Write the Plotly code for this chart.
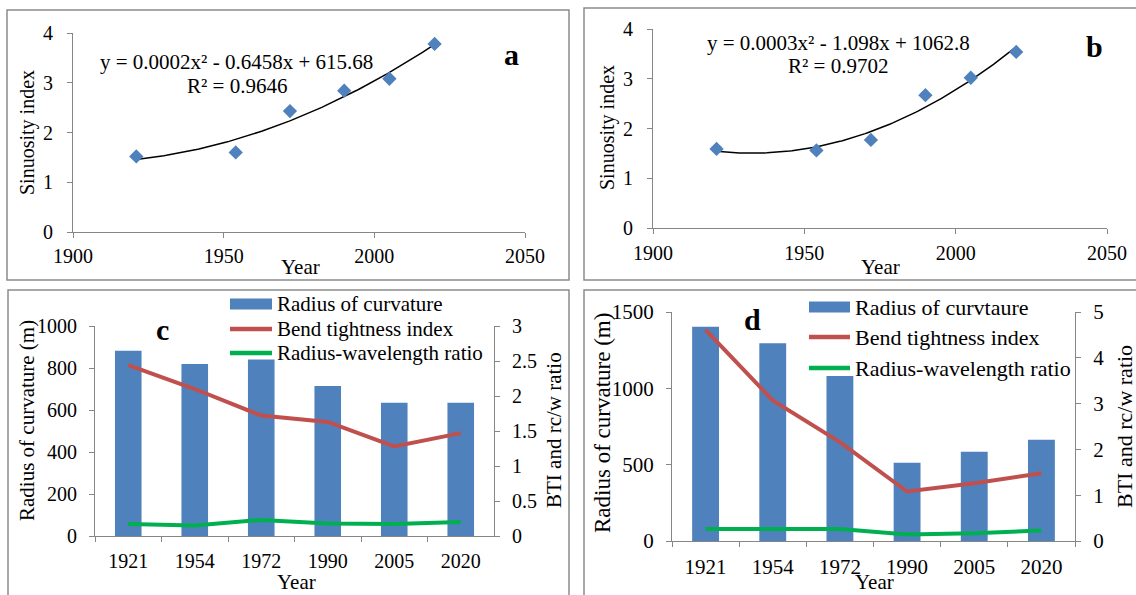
import numpy as np
import plotly.graph_objects as go

W, H = 1136, 595

# ---------------- data ----------------
years_a = [1921, 1954, 1972, 1990, 2005, 2020]
sinuosity_a = [1.52, 1.60, 2.43, 2.84, 3.08, 3.78]

years_b = [1921, 1954, 1972, 1990, 2005, 2020]
sinuosity_b = [1.59, 1.56, 1.77, 2.67, 3.02, 3.54]

year_labels = ["1921", "1954", "1972", "1990", "2005", "2020"]

radius_c = [882, 819, 841, 714, 635, 635]
bti_c = [2.44, 2.10, 1.72, 1.63, 1.28, 1.47]
rw_c = [0.17, 0.15, 0.23, 0.18, 0.17, 0.20]

radius_d = [1404, 1295, 1081, 512, 584, 663]
bti_d = [4.61, 3.07, 2.16, 1.08, 1.26, 1.48]
rw_d = [0.26, 0.26, 0.26, 0.14, 0.17, 0.23]

eq_a = ["y = 0.0002x² - 0.6458x + 615.68", "R² = 0.9646"]
eq_b = ["y = 0.0003x² - 1.098x + 1062.8", "R² = 0.9702"]

# ---------------- styles ----------------
FONT = "Times New Roman"
BLUE = "#4F81BD"
RED = "#C0504D"
GREEN = "#00B050"
AXC = "#868686"
BORDER = "#8C8C8C"


def fx(px):
    return px / W


def fy(py):
    return 1 - py / H


def trend(xs, ys):
    xs = np.asarray(xs, float)
    ys = np.asarray(ys, float)
    c = np.polyfit(xs - 1970, ys, 2)
    xx = np.linspace(xs.min(), xs.max(), 120)
    return xx, np.polyval(c, xx - 1970)


fig = go.Figure()

# panel a
tx, ty = trend(years_a, sinuosity_a)
fig.add_trace(go.Scatter(x=tx, y=ty, mode="lines", line=dict(color="black", width=1.5),
                         xaxis="x", yaxis="y", hoverinfo="skip"))
fig.add_trace(go.Scatter(x=years_a, y=sinuosity_a, mode="markers",
                         marker=dict(symbol="diamond", size=11, color=BLUE),
                         xaxis="x", yaxis="y"))
# panel b
tx, ty = trend(years_b, sinuosity_b)
fig.add_trace(go.Scatter(x=tx, y=ty, mode="lines", line=dict(color="black", width=1.5),
                         xaxis="x2", yaxis="y2", hoverinfo="skip"))
fig.add_trace(go.Scatter(x=years_b, y=sinuosity_b, mode="markers",
                         marker=dict(symbol="diamond", size=11, color=BLUE),
                         xaxis="x2", yaxis="y2"))
# panel c
fig.add_trace(go.Bar(x=year_labels, y=radius_c, marker=dict(color=BLUE, line=dict(width=0)),
                     xaxis="x3", yaxis="y3", name="Radius of curvature"))
fig.add_trace(go.Scatter(x=year_labels, y=bti_c, mode="lines", line=dict(color=RED, width=4),
                         xaxis="x3", yaxis="y4", name="Bend tightness index"))
fig.add_trace(go.Scatter(x=year_labels, y=rw_c, mode="lines", line=dict(color=GREEN, width=4),
                         xaxis="x3", yaxis="y4", name="Radius-wavelength ratio"))
# panel d
fig.add_trace(go.Bar(x=year_labels, y=radius_d, marker=dict(color=BLUE, line=dict(width=0)),
                     xaxis="x4", yaxis="y5", name="Radius of curvtaure"))
fig.add_trace(go.Scatter(x=year_labels, y=bti_d, mode="lines", line=dict(color=RED, width=4),
                         xaxis="x4", yaxis="y6", name="Bend tightness index"))
fig.add_trace(go.Scatter(x=year_labels, y=rw_d, mode="lines", line=dict(color=GREEN, width=4),
                         xaxis="x4", yaxis="y6", name="Radius-wavelength ratio"))


def ax(**kw):
    base = dict(showline=True, linecolor=AXC, linewidth=1, ticks="outside", ticklen=5,
                tickcolor=AXC, tickwidth=1, showgrid=False, zeroline=False, automargin=False,
                tickfont=dict(family=FONT, size=20, color="black"), fixedrange=True)
    base.update(kw)
    return base


layout = dict(
    width=W, height=H, margin=dict(l=0, r=0, t=0, b=0, autoexpand=False),
    paper_bgcolor="white", plot_bgcolor="white", showlegend=False,
    bargap=0.6, font=dict(family=FONT, color="black"),
    xaxis=ax(domain=[fx(73), fx(525)], range=[1900, 2050], dtick=50, tick0=1900,
             anchor="y", ticklabelstandoff=1),
    yaxis=ax(domain=[fy(232), fy(33)], range=[0, 4], dtick=1, anchor="x",
             ticklabelstandoff=10),
    xaxis2=ax(domain=[fx(653), fx(1107)], range=[1900, 2050], dtick=50, tick0=1900,
              anchor="y2", ticklabelstandoff=2),
    yaxis2=ax(domain=[fy(228), fy(29)], range=[0, 4], dtick=1, anchor="x2",
              ticklabelstandoff=10),
    xaxis3=ax(domain=[fx(95), fx(494)], type="category", tickson="boundaries",
              anchor="y3", ticklabelstandoff=7),
    yaxis3=ax(domain=[fy(536), fy(326)], range=[0, 1000], dtick=200, anchor="x3",
              ticklabelstandoff=8),
    yaxis4=ax(range=[0, 3], dtick=0.5, anchor="x3", overlaying="y3", side="right",
              ticklabelstandoff=8),
    xaxis4=ax(domain=[fx(672), fx(1075)], type="category", tickson="boundaries",
              anchor="y5", ticklabelstandoff=7, tickfont=dict(family=FONT, size=21, color="black")),
    yaxis5=ax(domain=[fy(541), fy(312)], range=[0, 1500], dtick=500, anchor="x4",
              ticklabelstandoff=8, tickfont=dict(family=FONT, size=21, color="black")),
    yaxis6=ax(range=[0, 5], dtick=1, anchor="x4", overlaying="y5", side="right",
              ticklabelstandoff=8, tickfont=dict(family=FONT, size=21, color="black")),
)
fig.update_layout(**layout)

shapes = []
# panel borders
for (x0, y0, x1, y1) in [(7, 10, 569, 280), (584, 8, 1140, 280),
                         (8, 290, 569, 600), (584, 290, 1140, 600)]:
    shapes.append(dict(type="rect", xref="paper", yref="paper",
                       x0=fx(x0), x1=fx(x1), y0=fy(y1), y1=fy(y0),
                       line=dict(color=BORDER, width=1.5), fillcolor="rgba(0,0,0,0)",
                       layer="below"))

annotations = []


def txt(x, y, s, size, bold=False, angle=0, xanchor="center"):
    f = dict(family=FONT, size=size, color="black")
    if bold:
        f["weight"] = "bold"
    annotations.append(dict(x=fx(x), y=fy(y), xref="paper", yref="paper", text=s,
                            showarrow=False, textangle=angle, xanchor=xanchor,
                            yanchor="middle", font=f))


def legend(x0, x1, ys, names, size, sw_h=11):
    cols = [BLUE, RED, GREEN]
    for i, (yy, nm) in enumerate(zip(ys, names)):
        if i == 0:
            shapes.append(dict(type="rect", xref="paper", yref="paper",
                               x0=fx(x0), x1=fx(x1), y0=fy(yy + sw_h / 2), y1=fy(yy - sw_h / 2),
                               line=dict(width=0), fillcolor=cols[i]))
        else:
            shapes.append(dict(type="line", xref="paper", yref="paper",
                               x0=fx(x0), x1=fx(x1), y0=fy(yy), y1=fy(yy),
                               line=dict(color=cols[i], width=4.5)))
        txt(x1 + 3, yy, nm, size, xanchor="left")


legend(230, 272, [304, 329, 353],
       ["Radius of curvature", "Bend tightness index", "Radius-wavelength ratio"], 21)
legend(809, 850, [307, 337, 368],
       ["Radius of curvtaure", "Bend tightness index", "Radius-wavelength ratio"], 22)

# equations
txt(236, 62, eq_a[0], 21)
txt(237, 86, eq_a[1], 21)
txt(838, 43, eq_b[0], 21)
txt(838, 66, eq_b[1], 21)

# panel letters
txt(511, 54, "a", 30, bold=True)
txt(1094, 47, "b", 30, bold=True)
txt(162, 329, "c", 30, bold=True)
txt(752, 319, "d", 30, bold=True)

# axis titles
txt(27, 133, "Sinuosity index", 20, angle=-90)
txt(300, 267, "Year", 21)
txt(607, 128, "Sinuosity index", 20, angle=-90)
txt(880, 267, "Year", 21)
txt(27, 421, "Radius of curvature (m)", 21, angle=-90)
txt(554, 430, "BTI and rc/w ratio", 21, angle=-90)
txt(296, 582, "Year", 21)
txt(602, 423, "Radius of curvature (m)", 23, angle=-90)
txt(1124, 427, "BTI and rc/w ratio", 22, angle=-90)
txt(875, 582, "Year", 21)

fig.update_layout(shapes=shapes, annotations=annotations)
fig.write_html("out.html")
